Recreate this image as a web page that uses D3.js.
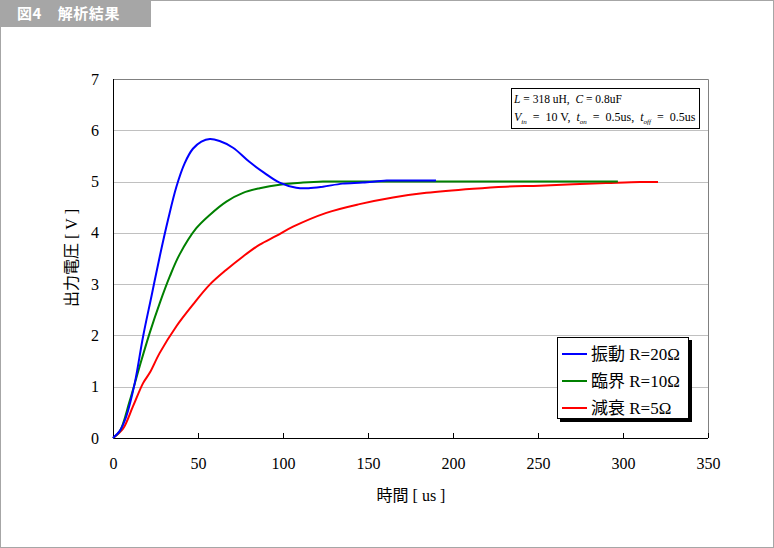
<!DOCTYPE html>
<html>
<head>
<meta charset="utf-8">
<script src="https://cdn.jsdelivr.net/npm/d3@7"></script>
<style>
  body { margin: 0; background: #fff; }
  text { font-family: "Liberation Serif", "Noto Sans CJK JP", serif; }
</style>
</head>
<body>
<div id="chart"></div>
<script>
//=========Data=========//
// time [us] and voltage [V] for each curve
var oscT = [0, 4, 7.8, 12.8, 17.7, 22.6, 27.5, 32.4, 37.3, 42.2, 47, 52, 57, 62.7, 70.6, 80.4, 89, 98, 107.8, 115, 123.5, 135, 147, 161, 175, 190];
var oscV = [0, 0.14, 0.42, 1.07, 1.98, 2.76, 3.54, 4.26, 4.9, 5.36, 5.64, 5.78, 5.83, 5.79, 5.66, 5.38, 5.17, 4.98, 4.88, 4.87, 4.9, 4.96, 4.98, 5.02, 5.02, 5.02];

var critT = [0, 4, 9.8, 15.7, 21.6, 27.5, 33.4, 39.2, 49, 56.9, 66.7, 76.5, 86.3, 98, 111.8, 123.5, 150, 200, 250, 297];
var critV = [0, 0.13, 0.72, 1.4, 2.05, 2.63, 3.15, 3.58, 4.09, 4.35, 4.61, 4.78, 4.87, 4.94, 4.98, 5.0, 5.0, 5.0, 5.0, 5.0];

var dampT = [0, 5.9, 11.8, 17.7, 21.6, 27.5, 37.3, 47, 56.9, 66.7, 76.5, 86.3, 96, 105.9, 125.5, 145, 164.7, 184.3, 211.8, 231, 251, 270.6, 290, 310, 320.6];
var dampV = [0, 0.18, 0.62, 1.07, 1.27, 1.66, 2.18, 2.6, 2.99, 3.28, 3.54, 3.77, 3.94, 4.12, 4.39, 4.56, 4.69, 4.78, 4.86, 4.9, 4.92, 4.95, 4.97, 4.99, 4.99];

var seriesNames = ["振動 R=20Ω", "臨界 R=10Ω", "減衰 R=5Ω"];
var seriesColors = ["#0000ff", "#008000", "#ff0000"];

var xTicks = [0, 50, 100, 150, 200, 250, 300, 350];
var yTicks = [0, 1, 2, 3, 4, 5, 6, 7];

//=========SVG area and margins=========//
var svgWidth = 774;
var svgHeight = 548;

var margin = { top: 79, right: 66, bottom: 110, left: 113 };
var width = 708 - margin.left;
var height = 438 - margin.top;

var svg = d3
  .select("#chart")
  .append("svg")
  .attr("width", svgWidth)
  .attr("height", svgHeight);

// outer frame
svg.append("rect")
  .attr("x", 0.5).attr("y", 0.5)
  .attr("width", svgWidth - 1).attr("height", svgHeight - 1)
  .attr("fill", "#fff")
  .attr("stroke", "#a6a6a6");

// title tab
svg.append("rect")
  .attr("x", 0).attr("y", 0)
  .attr("width", 151).attr("height", 27)
  .attr("fill", "#a6a6a6");

svg.append("text")
  .attr("x", 17).attr("y", 19)
  .attr("fill", "#fff")
  .style("font-family", "'Noto Sans CJK JP', sans-serif")
  .style("font-weight", "bold")
  .style("font-size", "15px")
  .style("letter-spacing", "0.6px")
  .text("図4　解析結果");

var chartGroup = svg
  .append("g")
  .attr("transform", `translate(${margin.left}, ${margin.top})`);

//======Scales======//
var xScale = d3.scaleLinear().domain([0, 350]).range([0, width]);
var yScale = d3.scaleLinear().domain([0, 7]).range([height, 0]);

// horizontal gridlines
chartGroup.append("g")
  .selectAll("line")
  .data(yTicks.slice(1, -1))
  .enter()
  .append("line")
  .attr("x1", 0).attr("x2", width)
  .attr("y1", (d) => Math.round(yScale(d)) + 0.5)
  .attr("y2", (d) => Math.round(yScale(d)) + 0.5)
  .attr("stroke", "#c0c0c0");

// top and right border of plot area
chartGroup.append("path")
  .attr("d", `M0,0.5H${width + 0.5}V${height}`)
  .attr("fill", "none")
  .attr("stroke", "#808080");

// x axis
var bottomAxis = d3.axisBottom(xScale)
  .tickValues(xTicks)
  .tickSizeInner(-5)
  .tickSizeOuter(0)
  .tickPadding(20);

var xAxis = chartGroup.append("g")
  .attr("transform", `translate(0, ${height})`)
  .call(bottomAxis);
xAxis.select(".domain").remove();
xAxis.selectAll("line").attr("stroke", "#000");
xAxis.selectAll("text")
  .attr("fill", "#000")
  .style("font-size", "16px");

// y axis
var leftAxis = d3.axisLeft(yScale)
  .tickValues(yTicks)
  .tickFormat(d3.format("d"))
  .tickSize(0)
  .tickPadding(14);

var yAxis = chartGroup.append("g").call(leftAxis);
yAxis.select(".domain").remove();
yAxis.selectAll("text")
  .attr("fill", "#000")
  .style("font-size", "16px");

// black axis lines
chartGroup.append("path")
  .attr("d", `M0.5,0V${height + 0.5}H${width}`)
  .attr("fill", "none")
  .attr("stroke", "#000");

//======Curves======//
var curveData = [
  d3.zip(oscT, oscV),
  d3.zip(critT, critV),
  d3.zip(dampT, dampV),
];

var lineGen = d3.line()
  .x((d) => xScale(d[0]))
  .y((d) => yScale(d[1]))
  .curve(d3.curveCatmullRom.alpha(0.5));

// draw red first, blue on top
[2, 1, 0].forEach(function (i) {
  chartGroup.append("path")
    .datum(curveData[i])
    .attr("d", lineGen)
    .attr("fill", "none")
    .attr("stroke", seriesColors[i])
    .attr("stroke-width", 2);
});

//======Axis labels======//
svg.append("text")
  .attr("transform", "translate(77, 258) rotate(-90)")
  .attr("text-anchor", "middle")
  .style("font-size", "16px")
  .text("出力電圧 [ V ]");

svg.append("text")
  .attr("x", 411).attr("y", 501)
  .attr("text-anchor", "middle")
  .style("font-size", "16px")
  .text("時間 [ us ]");

//======Parameter box======//
var pBox = svg.append("g").attr("transform", "translate(511, 88)");
pBox.append("rect")
  .attr("x", 0.5).attr("y", 0.5)
  .attr("width", 188).attr("height", 40)
  .attr("fill", "#fff")
  .attr("stroke", "#000");

var line1 = pBox.append("text")
  .attr("x", 3).attr("y", 15)
  .style("white-space", "pre")
  .style("font-size", "11.5px");
line1.append("tspan").style("font-style", "italic").text("L");
line1.append("tspan").text(" = 318 uH,  ");
line1.append("tspan").style("font-style", "italic").text("C");
line1.append("tspan").text(" = 0.8uF");

var line2 = pBox.append("text")
  .attr("x", 3).attr("y", 33)
  .style("white-space", "pre")
  .style("font-size", "12px");
function subPart(txt, main, sub, rest) {
  txt.append("tspan").style("font-style", "italic").text(main);
  txt.append("tspan").style("font-style", "italic").style("font-size", "7px")
    .attr("dy", 3).text(sub);
  txt.append("tspan").attr("dy", -3).text(rest);
}
subPart(line2, "V", "in", "  =  10 V,  ");
subPart(line2, "t", "on", "  =  0.5us,  ");
subPart(line2, "t", "off", "  =  0.5us");

//======Legend======//
var legend = svg.append("g").attr("transform", "translate(557, 337)");
legend.append("rect")
  .attr("x", 3).attr("y", 3)
  .attr("width", 132).attr("height", 82)
  .attr("fill", "#000");
legend.append("rect")
  .attr("x", 0.5).attr("y", 0.5)
  .attr("width", 131).attr("height", 81)
  .attr("fill", "#fff")
  .attr("stroke", "#000");

var legendRows = legend.selectAll(".row")
  .data(seriesNames)
  .enter()
  .append("g")
  .attr("transform", (d, i) => `translate(0, ${17 + i * 27})`);

legendRows.append("line")
  .attr("x1", 5).attr("x2", 30)
  .attr("stroke", (d, i) => seriesColors[i])
  .attr("stroke-width", 2);

legendRows.append("text")
  .attr("x", 34).attr("y", 6)
  .style("font-size", "17px")
  .text((d) => d);
</script>
</body>
</html>
